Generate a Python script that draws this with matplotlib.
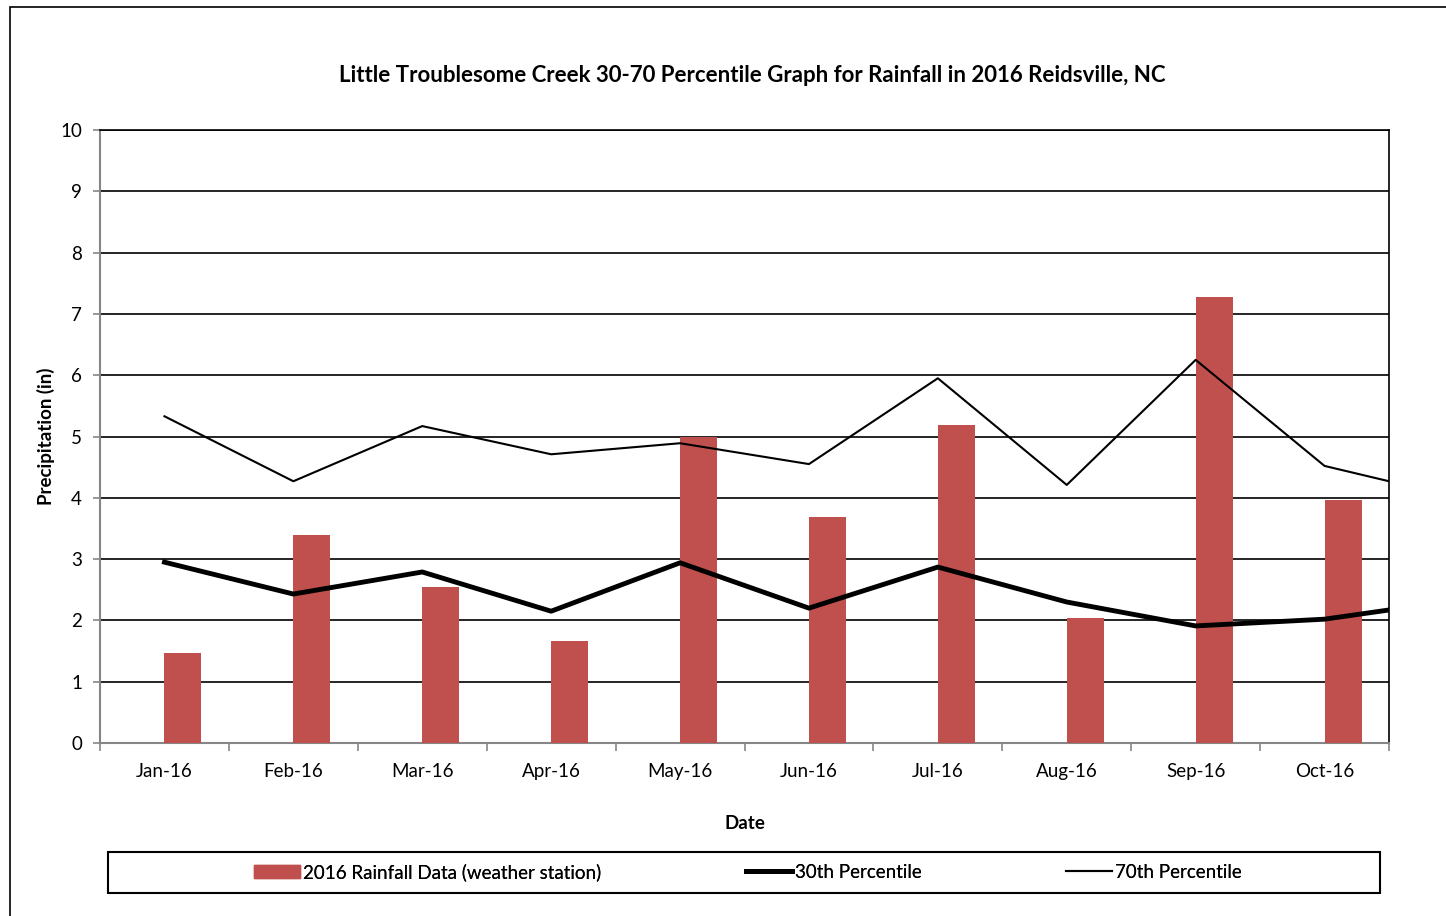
import matplotlib.pyplot as plt
import numpy as np
from matplotlib.patches import Rectangle
from matplotlib.lines import Line2D

plt.rcParams['font.family'] = ['Lato', 'DejaVu Sans']

months = ['Jan-16', 'Feb-16', 'Mar-16', 'Apr-16', 'May-16', 'Jun-16',
          'Jul-16', 'Aug-16', 'Sep-16', 'Oct-16']
rainfall = [1.47, 3.39, 2.54, 1.66, 4.99, 3.69, 5.19, 2.04, 7.28, 3.96]
# percentile series run one month past the axis (Nov-16), clipped at edge
p30 = [2.95, 2.43, 2.79, 2.15, 2.94, 2.20, 2.87, 2.30, 1.91, 2.02, 2.32]
p70 = [5.33, 4.27, 5.17, 4.71, 4.89, 4.55, 5.95, 4.21, 6.25, 4.52, 4.02]

W, H = 1446, 916
fig = plt.figure(figsize=(W/100, H/100), dpi=100)
ax = fig.add_axes([100/W, 1 - 743/H, 1289/W, 613/H])

# outer chart frame
fig.add_artist(Rectangle((10/W, -0.05), 1.2, 0.05 + 1 - 7/H,
                         transform=fig.transFigure, fill=False,
                         edgecolor='black', linewidth=1.2))

x = np.arange(len(months))
bw = 0.287
ax.bar(x + bw/2, rainfall, width=bw, color='#c0504d', zorder=3)
xl = np.arange(len(p30))
ax.plot(xl, p30, color='black', linewidth=3.5, zorder=4)
ax.plot(xl, p70, color='black', linewidth=1.5, zorder=4)

ax.set_xlim(-0.5, 9.5)
ax.set_ylim(0, 10)
ax.set_yticks(range(0, 11))
ax.yaxis.grid(True, color='black', linewidth=1.2, zorder=1)
ax.set_axisbelow(True)

fs = 13.5
ax.set_xticks(x)
ax.set_xticklabels(months, fontsize=fs)
ax.tick_params(axis='x', which='major', length=0, pad=14.5)
ax.set_xticks(np.arange(-0.5, 10, 1), minor=True)
ax.tick_params(axis='x', which='minor', length=6, color='#868686', width=1.2)
ax.tick_params(axis='y', length=5, color='#868686', width=1.2, labelsize=fs, pad=8)

for s in ['left', 'bottom']:
    ax.spines[s].set_color('#868686')
    ax.spines[s].set_linewidth(1.5)
for s in ['top', 'right']:
    ax.spines[s].set_color('black')
    ax.spines[s].set_linewidth(1.2)

ax.set_xlabel('Date', fontsize=fs, fontweight='bold', labelpad=25)
ax.set_ylabel('Precipitation (in)', fontsize=fs, fontweight='bold', labelpad=4)
fig.text(752/W, 1 - 76/H,
         'Little Troublesome Creek 30-70 Percentile Graph for Rainfall in 2016 Reidsville, NC',
         ha='center', va='center', fontsize=16, fontweight='bold')

# legend frame and its three entries
fig.add_artist(Rectangle((108/W, 1 - 893/H), 1272/W, 41/H,
                         transform=fig.transFigure, fill=False,
                         edgecolor='black', linewidth=1.5))
handles = [Rectangle((0, 0), 1, 1, color='#c0504d'),
           Line2D([], [], color='black', linewidth=3.5),
           Line2D([], [], color='black', linewidth=1.5)]
labels = ['2016 Rainfall Data (weather station)', '30th Percentile', '70th Percentile']
starts = [254, 746, 1066]
for h, lab, x0 in zip(handles, labels, starts):
    leg = fig.legend([h], [lab], loc='center left',
                     bbox_to_anchor=(x0/W, 1 - 872/H), frameon=False,
                     fontsize=fs, handlelength=2.45, handleheight=0.7,
                     handletextpad=0.15, borderpad=0, borderaxespad=0)
    fig.add_artist(leg)

fig.savefig('out.png', dpi=100)
